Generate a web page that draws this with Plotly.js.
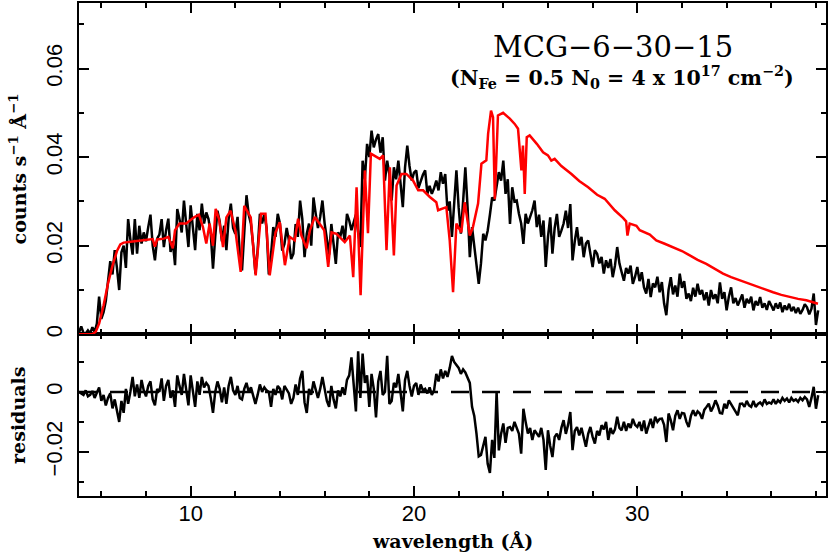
<!DOCTYPE html>
<html>
<head>
<meta charset="utf-8">
<script src="https://cdn.plot.ly/plotly-3.0.1.min.js"></script>
<style>
  body { margin: 0; background: #fff; }
  #chart { width: 830px; height: 555px; }
</style>
</head>
<body>
<div id="chart"></div>
<script>
// wavelength grid of the binned spectrum (Angstrom)
const waveStart = 5.0;
const waveStep = 0.1;

// observed counts, units of 1e-3 counts/s/A, one value per bin from 5.0 A
const dataMilli = [
  0.4, 1.8, 0.3, 0.2, 0.9, 0.2, 1.6, 0.5, 2.4, 8.5,
  3.5, 5.0, 7.5, 11.5, 16.5, 13.5, 19.0, 15.0, 10.0, 18.5,
  20.0, 15.0, 26.0, 21.5, 18.0, 26.0, 18.2, 24.5, 20.5, 23.0,
  21.0, 24.2, 27.0, 20.0, 16.7, 21.6, 22.5, 26.0, 19.7, 23.5,
  26.1, 18.6, 21.0, 15.6, 28.3, 26.0, 23.0, 30.2, 25.0, 19.7,
  29.1, 24.0, 19.0, 27.2, 23.5, 29.5, 25.0, 27.5, 26.0, 22.7,
  14.8, 22.0, 27.9, 25.5, 21.0, 24.5, 19.0, 26.0, 29.5, 24.0,
  22.7, 26.5, 18.0, 14.4, 24.0, 31.4, 27.0, 24.9, 20.0, 13.7,
  19.0, 27.2, 25.0, 27.2, 24.0, 13.5, 18.0, 24.2, 22.0, 27.2,
  25.0, 18.9, 20.4, 24.0, 21.2, 17.0, 18.2, 24.9, 22.0, 30.2,
  26.0, 17.4, 22.7, 25.0, 20.0, 30.9, 27.2, 24.0, 26.5, 30.2,
  25.0, 21.2, 18.0, 24.9, 19.7, 15.9, 23.0, 22.0, 24.5, 21.0,
  27.2, 25.7, 23.5, 25.0, 27.0, 23.0, 19.7, 39.2, 35.0, 43.0,
  40.0, 46.0, 42.2, 44.0, 45.2, 41.0, 44.5, 34.7, 39.2, 36.0,
  30.2, 37.7, 35.0, 39.2, 34.0, 28.7, 37.7, 42.6, 38.0, 34.7,
  36.5, 37.0, 33.0, 34.7, 36.0, 37.0, 31.7, 33.5, 31.7, 33.0,
  34.7, 32.5, 36.6, 34.0, 36.2, 27.9, 30.0, 22.0, 30.0, 37.0,
  28.7, 22.7, 30.0, 37.7, 28.7, 17.4, 24.2, 20.0, 15.9, 11.4,
  16.0, 22.7, 21.2, 23.4, 27.0, 30.9, 30.2, 33.0, 36.6, 34.7,
  39.2, 31.7, 35.0, 24.9, 33.2, 30.0, 30.2, 27.2, 25.0, 20.4,
  27.2, 25.0, 26.4, 28.0, 30.2, 24.2, 27.0, 22.0, 25.7, 15.2,
  22.0, 26.4, 18.2, 24.0, 27.2, 22.0, 23.4, 25.0, 27.9, 24.0,
  29.4, 16.7, 21.0, 24.2, 20.0, 22.0, 17.4, 20.5, 21.2, 18.0,
  15.2, 19.0, 18.2, 16.0, 17.5, 13.7, 16.7, 15.0, 17.0, 12.9,
  15.5, 19.7, 16.0, 14.0, 12.1, 15.0, 13.7, 15.5, 11.4, 13.0,
  15.2, 12.0, 14.0, 10.6, 9.2, 12.5, 8.4, 11.5, 10.6, 13.0,
  9.5, 11.8, 7.0, 4.3, 10.0, 12.9, 9.0, 11.0, 8.5, 13.7,
  10.5, 12.0, 8.0, 9.2, 7.5, 10.5, 8.5, 11.4, 9.0, 10.0,
  7.7, 9.5, 6.5, 10.0, 8.0, 9.0, 7.0, 11.7, 8.0, 9.5,
  5.4, 8.5, 10.6, 7.0, 8.2, 6.5, 7.7, 9.0, 6.0, 8.0,
  7.0, 8.5, 5.4, 7.5, 6.5, 8.4, 6.0, 7.0, 5.5, 7.5,
  6.5, 5.4, 7.0, 5.8, 7.2, 5.0, 6.5, 5.5, 6.9, 5.2,
  6.2, 4.8, 6.0, 4.6, 5.5, 6.8, 6.1, 4.5, 5.8, 9.2,
  2.1, 5.4
];

// residuals (data - model), same bins, units of 1e-3
const residMilli = [
  0.0, -0.5, -1.0, 0.5, -1.5, -1.0, 0.3, -2.0, -0.5, 1.5,
  -3.0, -1.0, -4.5, -2.0, -0.5, -5.5, -2.5, -6.0, -10.0, -3.0,
  -7.0, 1.0, -4.0, 0.0, 5.0, -1.5, 2.5, -2.0, 4.0, 0.5,
  -1.5, 2.0, 3.5, -2.5, -4.5, 1.0, 0.0, 4.5, -3.0, 2.0,
  4.0, -2.0, 0.5, -5.0, 5.5, 2.0, -1.0, 6.0, 0.5, -4.5,
  5.5, 0.0, -5.0, 3.5, -1.0, 5.0, 1.5, 3.0, 2.0, -2.0,
  -7.0, 0.0, 3.5, 1.0, -3.5, 1.5, -4.0, 2.0, 5.0, 0.5,
  -1.0, 2.0, -2.0, -2.5, 1.0, 3.0, 0.0, 1.5, -1.5, -4.0,
  -1.0, 2.5, 0.0, 1.5, 0.5, 0.0, -5.0, 1.0, -1.0, 2.0,
  1.0, -2.5, 2.0, 0.5, -0.5, -4.0, -2.0, 2.5, -1.0, 4.5,
  7.0, -3.5, -7.0, 1.0, -1.0, 3.5, 0.5, -2.0, 1.0, 5.0,
  1.0, -3.0, -5.0, 2.0, -2.5, -5.5, 0.5, -1.5, 1.5, -1.0,
  4.0, 5.5, 11.5, 1.0, -6.5, 13.5, -2.0, 12.8, 3.0, 5.5,
  -5.0, 6.0, 1.0, -8.5, 3.5, 7.0, -1.0, 0.0, 12.0, -4.0,
  -3.0, 3.0, 1.5, 6.0, -1.0, -6.5, 4.0, 7.0, 2.0, -1.5,
  2.0, 3.0, -1.0, 2.5, 0.5, 1.0, -0.5, 1.5, -1.0, 0.5,
  6.0, 3.5, 7.5, 4.5, 7.0, 5.0, 8.0, 12.0, 10.0, 9.0,
  8.0, 6.0, 7.5, 6.5, 5.0, 3.0, -5.0, -8.0, -14.0, -21.5,
  -21.0, -18.0, -15.0, -24.0, -27.0, -16.0, -22.0, 0.0, -19.5, -14.0,
  -10.5, -17.0, -12.0, -11.7, -13.0, -10.0, -11.7, -14.0, -20.6, -5.6,
  -10.0, -13.9, -12.0, -16.0, -12.8, -14.0, -15.0, -12.0, -16.0, -26.0,
  -12.8, -18.0, -21.7, -15.0, -13.9, -16.0, -12.0, -9.4, -14.0, -11.0,
  -6.7, -19.4, -13.0, -11.7, -14.5, -12.0, -15.0, -18.3, -14.0, -11.7,
  -15.0, -17.2, -13.0, -14.5, -11.1, -12.5, -10.0, -16.0, -12.0, -14.0,
  -12.5, -8.3, -12.0, -12.8, -10.0, -13.0, -10.6, -12.0, -9.0, -11.0,
  -11.7, -10.0, -13.0, -9.5, -13.9, -11.0, -9.0, -12.0, -8.3, -10.0,
  -9.0, -8.9, -11.0, -16.7, -7.2, -9.5, -12.8, -8.0, -6.1, -9.0,
  -7.0, -7.2, -10.0, -11.7, -8.0, -6.1, -8.0, -6.5, -7.2, -9.0,
  -6.0, -5.0, -3.9, -6.5, -5.0, -2.8, -4.5, -7.0, -7.2, -4.0,
  -5.5, -2.8, -4.0, -5.0, -6.5, -7.8, -4.0, -3.9, -5.0, -3.0,
  -4.5, -5.0, -3.0, -5.0, -4.0, -3.5, -4.4, -2.5, -4.0, -3.5,
  -3.9, -2.5, -4.0, -2.8, -3.5, -2.0, -3.0, -2.2, -3.5, -2.0,
  -3.0, -2.5, -3.3, -2.0, -2.8, -1.7, -2.5, -5.0, -2.0, 1.7,
  -5.6, -1.1
];

// dusty warm absorber model (red), irregular wavelength points
const modelWave = [
  5.0, 5.6, 5.75, 5.9, 6.1, 6.3, 6.5, 6.7, 6.85, 7.0, 7.5, 8.0, 8.3, 8.4, 8.5, 8.8,
  9.0, 9.2, 9.3, 9.5, 9.8, 10.15, 10.37, 10.55, 10.7, 10.85, 11.0, 11.12, 11.27,
  11.45, 11.6, 11.79, 12.0, 12.24, 12.4, 12.69, 12.91, 13.15, 13.35, 13.54, 13.8,
  13.99, 14.22, 14.44, 14.66, 14.81, 14.96, 15.19, 15.34, 15.56, 15.78, 15.98,
  16.16, 16.31, 16.53, 16.9, 17.13, 17.28, 17.43, 17.61, 17.8, 17.94, 18.07, 18.25,
  18.47, 18.62, 18.77, 18.92, 19.1, 19.22, 19.44, 19.66, 19.96, 20.19, 20.41,
  20.71, 21.0, 21.08, 21.45, 21.6, 21.75, 21.9, 22.12, 22.27, 22.5, 22.64, 22.87,
  23.02, 23.24, 23.32, 23.45, 23.54, 23.62, 23.76, 23.99, 24.29, 24.51, 24.66,
  24.81, 24.88, 24.96, 25.05, 25.18, 25.5, 25.78, 26.0, 26.15, 26.3, 26.6, 27.05,
  27.4, 27.8, 28.2, 28.54, 28.99, 29.36, 29.5, 29.56, 29.66, 29.96, 30.11, 30.56,
  30.85, 31.2, 31.6, 32.0, 32.35, 32.7, 33.09, 33.45, 33.84, 34.2, 34.59, 35.0,
  35.33, 35.7, 36.08, 36.45, 36.82, 37.2, 37.57, 38.09
];
const modelMilli = [
  0.0, 0.0, 0.6, 2.4, 6.5, 11.5, 15.5, 18.8, 20.3, 20.7, 21.0, 21.3, 21.5, 19.8, 21.4, 21.6,
  22.0, 19.4, 23.5, 25.0, 25.0, 26.4, 27.0, 24.2, 20.5, 25.0, 20.0, 28.3, 26.0,
  19.7, 26.4, 27.9, 23.5, 14.1, 29.0, 26.4, 13.3, 27.2, 27.2, 13.3, 23.0,
  25.3, 15.6, 22.0, 21.2, 26.1, 22.3, 19.4, 23.5, 26.5, 25.0, 23.5,
  15.2, 23.0, 22.7, 20.8, 22.3, 12.9, 33.2, 8.8, 37.0, 22.8, 40.8, 40.3,
  39.6, 40.4, 19.0, 37.7, 17.8, 33.6, 36.2, 36.2, 34.7, 32.5, 32.5,
  31.0, 29.8, 28.0, 28.7, 21.2, 9.5, 25.0, 23.0, 29.8, 22.3, 24.2, 29.5,
  38.5, 39.3, 45.3, 50.5, 49.0, 30.5, 49.4, 50.0, 48.7, 47.5, 46.4,
  37.0, 42.6, 31.7, 44.5, 44.9, 43.0, 41.1, 40.4, 39.2, 39.6, 38.0, 36.2,
  34.6, 33.2, 31.5, 30.6, 28.0, 26.3, 25.5, 22.3, 25.0, 24.5, 23.5, 22.5,
  21.2, 20.5, 19.7, 18.8, 17.8, 16.8, 15.9, 14.8, 13.7, 12.9, 12.2, 11.4,
  10.7, 10.1, 9.5, 8.9, 8.4, 8.0, 7.7, 6.9
];

const dataWave = dataMilli.map((v, i) => waveStart + i * waveStep);
const toCounts = arr => arr.map(v => v / 1000);

const tickFont = { family: 'Liberation Sans, Arial, sans-serif', size: 22, color: '#000' };
const labelFont = { family: 'DejaVu Serif, serif', size: 19, color: '#000', weight: 'bold' };
const noteFont = { family: 'DejaVu Serif, serif', size: 20.5, color: '#000', weight: 'bold' };

const traces = [
  {
    x: dataWave, y: toCounts(dataMilli), xaxis: 'x2', yaxis: 'y',
    mode: 'lines', line: { color: '#000', width: 2.5 }
  },
  {
    x: modelWave, y: toCounts(modelMilli), xaxis: 'x2', yaxis: 'y',
    mode: 'lines', line: { color: '#ff0000', width: 2.5 }
  },
  {
    x: [5, 38.45], y: [0, 0], xaxis: 'x', yaxis: 'y2',
    mode: 'lines', line: { color: '#000', width: 2.5, dash: '18px,13px' }
  },
  {
    x: dataWave, y: toCounts(residMilli), xaxis: 'x', yaxis: 'y2',
    mode: 'lines', line: { color: '#000', width: 2.5 }
  }
];

const minorTicks = { ticks: 'inside', ticklen: 5, tickwidth: 2, tickcolor: '#000' };

const axisCommon = {
  showline: true, linecolor: '#000', linewidth: 2,
  mirror: 'ticks', ticks: 'inside', ticklen: 10, tickwidth: 2, tickcolor: '#000',
  showgrid: false, zeroline: false, tickfont: tickFont
};

const layout = {
  width: 830, height: 555,
  margin: { l: 79, r: 4, t: 3, b: 59 },
  paper_bgcolor: '#fff', plot_bgcolor: '#fff',
  showlegend: false,
  xaxis: Object.assign({}, axisCommon, {
    anchor: 'y2', range: [5, 38.45], dtick: 10, tick0: 0,
    minor: Object.assign({ dtick: 2 }, minorTicks),
    ticklabelstandoff: -3
  }),
  xaxis2: Object.assign({}, axisCommon, {
    anchor: 'y', matches: 'x', range: [5, 38.45], dtick: 10, tick0: 0,
    showticklabels: false,
    minor: Object.assign({ dtick: 2 }, minorTicks)
  }),
  yaxis: Object.assign({}, axisCommon, {
    anchor: 'x2', domain: [0.328, 1], range: [0, 0.0748], dtick: 0.02, tick0: 0,
    tickangle: -90, ticklabelstandoff: 6,
    minor: Object.assign({ dtick: 0.01 }, minorTicks)
  }),
  yaxis2: Object.assign({}, axisCommon, {
    anchor: 'x', domain: [0, 0.328], range: [-0.0347, 0.0192], dtick: 0.02, tick0: 0,
    tickangle: -90, ticklabelstandoff: 6,
    minor: Object.assign({ dtick: 0.01 }, minorTicks)
  }),
  annotations: [
    {
      text: 'MCG\u22126\u221230\u221215', xref: 'paper', yref: 'paper',
      x: 0.715, y: 0.911, xanchor: 'center', yanchor: 'middle', showarrow: false,
      font: { family: 'DejaVu Serif, serif', size: 29, color: '#000' }
    },
    {
      text: '(N<sub>Fe</sub> = 0.5 N<sub>0</sub> = 4 x 10<sup>17</sup> cm<sup>\u22122</sup>)',
      xref: 'paper', yref: 'paper', x: 0.727, y: 0.848,
      xanchor: 'center', yanchor: 'middle', showarrow: false, font: noteFont
    },
    {
      text: 'counts s<sup>\u22121</sup> \u00c5<sup>\u22121</sup>', xref: 'paper', yref: 'paper',
      x: -0.082, y: 0.664, xanchor: 'center', yanchor: 'middle', textangle: -90,
      showarrow: false, font: labelFont
    },
    {
      text: 'residuals', xref: 'paper', yref: 'paper',
      x: -0.082, y: 0.164, xanchor: 'center', yanchor: 'middle', textangle: -90,
      showarrow: false, font: labelFont
    },
    {
      text: 'wavelength (\u00c5)', xref: 'paper', yref: 'paper',
      x: 0.5, y: -0.091, xanchor: 'center', yanchor: 'middle',
      showarrow: false, font: labelFont
    }
  ]
};

Plotly.newPlot('chart', traces, layout, { displayModeBar: false, staticPlot: true });
</script>
</body>
</html>
